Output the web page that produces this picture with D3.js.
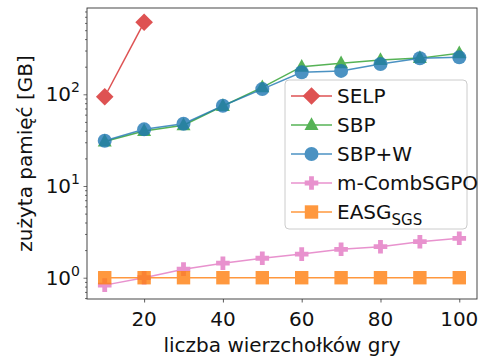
<!DOCTYPE html>
<html>
<head>
<meta charset="utf-8">
<script src="https://cdn.jsdelivr.net/npm/d3@7"></script>
<style>
  html, body { margin: 0; padding: 0; background: #fff; }
  svg { display: block; font-family: "DejaVu Sans", sans-serif; }
</style>
</head>
<body>
<svg id="chart" width="480" height="358"></svg>
<script>
// Memory used (GB) versus number of game vertices
const vertices = [10, 20, 30, 40, 50, 60, 70, 80, 90, 100];
const selpVertices = [10, 20];
const selp = [94, 610];
const sbp = [30.5, 39.8, 46, 74.5, 119, 200, 218, 237, 248, 280];
const sbpW = [31.2, 41.5, 47.8, 75, 114, 174, 180, 214, 247, 253];
const mComb = [0.83, 1.0, 1.24, 1.44, 1.63, 1.81, 2.04, 2.18, 2.47, 2.69];
const easg = [1, 1, 1, 1, 1, 1, 1, 1, 1, 1];
const xTicks = [20, 40, 60, 80, 100];
const yTicks = [1, 10, 100];

const series = [
  { name: "SELP", sub: null, color: "#d62728", shape: "diamond", xs: selpVertices, ys: selp },
  { name: "SBP", sub: null, color: "#2ca02c", shape: "triangle", xs: vertices, ys: sbp },
  { name: "SBP+W", sub: null, color: "#1f77b4", shape: "circle", xs: vertices, ys: sbpW },
  { name: "m-CombSGPO", sub: null, color: "#e377c2", shape: "plus", xs: vertices, ys: mComb },
  { name: "EASG", sub: "SGS", color: "#ff7f0e", shape: "square", xs: vertices, ys: easg }
];

const svg = d3.select("#chart");
const m = { left: 87, right: 477, top: 8, bottom: 299 };

const x = d3.scaleLinear().domain([5.5, 104.5]).range([m.left, m.right]);
const y = d3.scaleLog().domain([0.586, 873]).range([m.bottom, m.top]);

const fs = 20;

// marker path generators
function markerPath(shape) {
  switch (shape) {
    case "diamond": return "M0,-8.8L8.8,0L0,8.8L-8.8,0Z";
    case "triangle": return "M0,-7.8L7,5L-7,5Z";
    case "square": return "M-6.7,-6.7H6.7V6.7H-6.7Z";
    case "plus": {
      const a = 2.4, b = 6.8;
      return `M${-a},${-b}H${a}V${-a}H${b}V${a}H${a}V${b}H${-a}V${a}H${-b}V${-a}H${-a}Z`;
    }
    default: return d3.symbol().type(d3.symbolCircle).size(Math.PI * 7 * 7)();
  }
}

// axes frame ticks
const xAxis = d3.axisBottom(x).tickValues(xTicks).tickSize(3.5).tickFormat("");
const gx = svg.append("g").attr("transform", `translate(0,${m.bottom})`).call(xAxis);
gx.select(".domain").remove();
gx.selectAll(".tick line").attr("stroke", "#333").attr("stroke-width", 0.8);
xTicks.forEach(t => {
  svg.append("text").attr("x", x(t)).attr("y", m.bottom + 27)
    .attr("text-anchor", "middle").attr("font-size", fs).attr("fill", "#111").text(t);
});

// log y-axis: major and minor ticks
const minor = [];
for (let e = -1; e <= 2; e++) for (let k = 2; k <= 9; k++) {
  const v = k * Math.pow(10, e);
  if (v >= y.domain()[0] && v <= y.domain()[1]) minor.push(v);
}
const gy = svg.append("g").attr("transform", `translate(${m.left},0)`);
gy.call(d3.axisLeft(y).tickValues(yTicks).tickSize(3.5).tickFormat(""));
gy.call(g => g.append("g").call(d3.axisLeft(y).tickValues(minor).tickSize(2).tickFormat("")));
gy.selectAll(".domain").remove();
gy.selectAll(".tick line").attr("stroke", "#333").attr("stroke-width", 0.7);

yTicks.forEach(t => {
  const exp = Math.round(Math.log10(t));
  const tx = svg.append("text").attr("x", m.left - 7).attr("y", y(t) + 7)
    .attr("text-anchor", "end").attr("font-size", fs).attr("fill", "#111");
  tx.append("tspan").text("10");
  tx.append("tspan").attr("font-size", 14).attr("dy", -9).text(exp);
});

// frame
svg.append("rect").attr("x", m.left).attr("y", m.top)
  .attr("width", m.right - m.left).attr("height", m.bottom - m.top)
  .attr("fill", "none").attr("stroke", "#333").attr("stroke-width", 0.9);

// series
const line = d3.line().x(d => x(d[0])).y(d => y(d[1]));
const plot = svg.append("g");
series.forEach(s => {
  const pts = s.xs.map((v, i) => [v, s.ys[i]]);
  const g = plot.append("g").attr("opacity", 0.8);
  g.append("path").datum(pts).attr("d", line)
    .attr("fill", "none").attr("stroke", s.color).attr("stroke-width", 1.5);
  g.selectAll("path.mk").data(pts).join("path").attr("class", "mk")
    .attr("d", markerPath(s.shape))
    .attr("transform", d => `translate(${x(d[0])},${y(d[1])})`)
    .attr("fill", s.color);
});

// legend
const lg = svg.append("g");
lg.append("rect").attr("x", 285).attr("y", 80).attr("width", 182).attr("height", 149)
  .attr("rx", 4).attr("fill", "#fff").attr("fill-opacity", 0.8)
  .attr("stroke", "#cccccc").attr("stroke-width", 1);
series.forEach((s, i) => {
  const cy = 96 + i * 29;
  const g = lg.append("g").attr("opacity", 0.8);
  g.append("line").attr("x1", 291).attr("x2", 332).attr("y1", cy).attr("y2", cy)
    .attr("stroke", s.color).attr("stroke-width", 1.5);
  g.append("path").attr("d", markerPath(s.shape)).attr("transform", `translate(311.5,${cy})`)
    .attr("fill", s.color);
  const t = lg.append("text").attr("x", 337).attr("y", cy + 7)
    .attr("font-size", fs).attr("fill", "#111");
  t.append("tspan").text(s.name);
  if (s.sub) t.append("tspan").attr("font-size", 15).attr("dy", 6).text(s.sub);
});

// axis titles
svg.append("text").attr("x", (m.left + m.right) / 2).attr("y", 352)
  .attr("text-anchor", "middle").attr("font-size", fs).attr("fill", "#111")
  .text("liczba wierzchołków gry");
svg.append("text").attr("transform", `translate(32,${(m.top + m.bottom) / 2}) rotate(-90)`)
  .attr("text-anchor", "middle").attr("font-size", fs).attr("fill", "#111")
  .text("zużyta pamięć [GB]");
</script>
</body>
</html>
